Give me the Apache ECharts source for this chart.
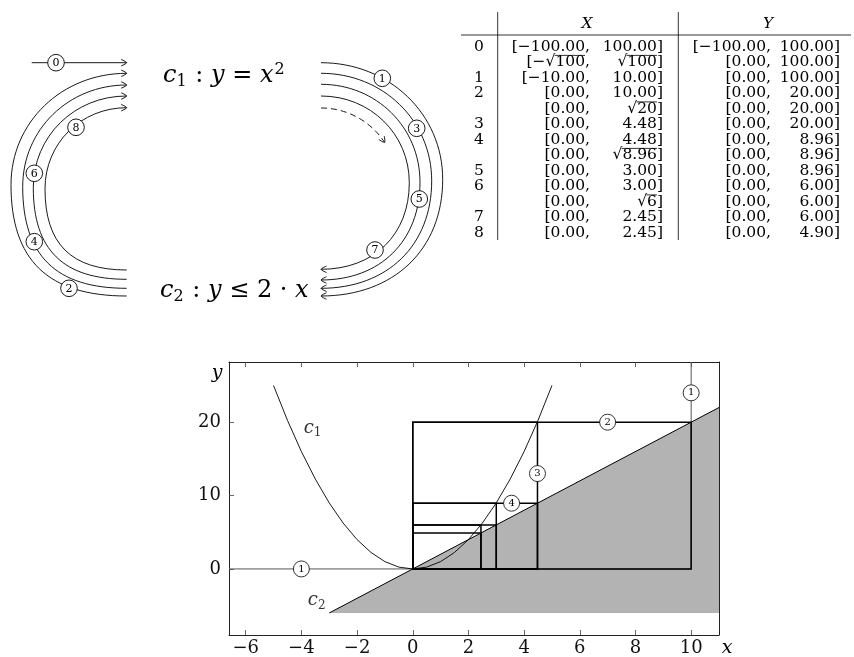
<!DOCTYPE html>
<html>
<head>
<meta charset="utf-8">
<script src="https://cdn.jsdelivr.net/npm/echarts@6/dist/echarts.min.js"></script>
<style>
  html, body { margin: 0; padding: 0; background: #fff; }
  #chart { width: 854px; height: 657px; }
</style>
</head>
<body>
<div id="chart"></div>
<script>
// ---- Interval narrowing table (step, X interval, Y interval) ----
const rowIndex = ['0', '', '1', '2', '', '3', '4', '', '5', '6', '', '7', '8'];
const xLower = ['[−100.00,', '[−√100,', '[−10.00,', '[0.00,', '[0.00,', '[0.00,', '[0.00,',
                '[0.00,', '[0.00,', '[0.00,', '[0.00,', '[0.00,', '[0.00,'];
const xUpper = ['100.00]', '√100]', '10.00]', '10.00]', '√20]', '4.48]', '4.48]',
                '√8.96]', '3.00]', '3.00]', '√6]', '2.45]', '2.45]'];
const yLower = ['[−100.00,', '[0.00,', '[0.00,', '[0.00,', '[0.00,', '[0.00,', '[0.00,',
                '[0.00,', '[0.00,', '[0.00,', '[0.00,', '[0.00,', '[0.00,'];
const yUpper = ['100.00]', '100.00]', '100.00]', '20.00]', '20.00]', '20.00]', '8.96]',
                '8.96]', '8.96]', '6.00]', '6.00]', '6.00]', '4.90]'];

// ---- Boxes drawn in the plot (steps 1..8) ----
const boxStep  = [1, 2, 3, 4, 5, 6, 7, 8];
const boxXLow  = [-10, 0, 0, 0, 0, 0, 0, 0];
const boxXHigh = [10, 10, 4.48, 4.48, 3.00, 3.00, 2.45, 2.45];
const boxYLow  = [0, 0, 0, 0, 0, 0, 0, 0];
const boxYHigh = [100, 20, 20, 8.96, 8.96, 6.00, 6.00, 4.90];

// ---- Constraint curves ----
const c1X = [-5, -4.5, -4, -3.5, -3, -2.5, -2, -1.5, -1, -0.5, 0, 0.5, 1, 1.5, 2, 2.5, 3, 3.5, 4, 4.5, 5];
const c1Y = [25, 20.25, 16, 12.25, 9, 6.25, 4, 2.25, 1, 0.25, 0, 0.25, 1, 2.25, 4, 6.25, 9, 12.25, 16, 20.25, 25];
const c2X = [-3, 11];
const c2Y = [-6, 22];
const c2FillFloor = -6;

// ---- Step markers in the plot ----
const markerStep = ['1', '1', '2', '3', '4'];
const markerX = [-4, 10, 7, 4.48, 3.55];
const markerY = [0, 24, 20, 13, 8.96];

// ---- Curve name labels ----
const curveName = ['c1', 'c2'];
const curveLabelX = [-3.6, -3.45];
const curveLabelY = [19.2, -4.3];

// ---- Axis ticks ----
const xTicks = [-6, -4, -2, 0, 2, 4, 6, 8, 10];
const yTicks = [0, 10, 20];

const SERIF = '"DejaVu Serif", serif';
const minus = v => String(v).replace('-', '\u2212');

const chart = echarts.init(document.getElementById('chart'));

// ---------- top-left loop diagram ----------
const diagram = [];
const INK = '#000';
const LW = 0.9;

function bez(x1, y1, cx1, cy1, cx2, cy2, x2, y2, dash) {
  return {
    type: 'bezierCurve', silent: true,
    shape: { x1, y1, cpx1: cx1, cpy1: cy1, cpx2: cx2, cpy2: cy2, x2, y2 },
    style: { stroke: INK, lineWidth: LW, fill: 'none', lineDash: dash || null }
  };
}
function arrowHead(x, y, dx, dy) {
  const len = 5.5, half = 3.2;
  const nx = -dy, ny = dx;
  return {
    type: 'polyline', silent: true,
    shape: { points: [[x - len * dx + half * nx, y - len * dy + half * ny], [x, y], [x - len * dx - half * nx, y - len * dy - half * ny]], smooth: 0.3 },
    style: { stroke: INK, lineWidth: LW, fill: 'none' }
  };
}
function circled(x, y, label) {
  return [
    { type: 'circle', silent: true, shape: { cx: x, cy: y, r: 8.3 }, style: { fill: '#fff', stroke: INK, lineWidth: LW }, z: 10 },
    { type: 'text', silent: true, z: 11, style: { text: label, x: x, y: y + 0.5, align: 'center', verticalAlign: 'middle',
      textAlign: 'center', textVerticalAlign: 'middle', font: '11px ' + SERIF, fill: INK } }
  ];
}

// left loops (c2 -> c1), open to the right, arrow at the top end
const leftEnd = 126.7;
const leftLoops = [
  { top: 73.3, bottom: 296.0, side: 11.0, mid: 184.7 },
  { top: 85.0, bottom: 288.3, side: 22.7, mid: 186.7 },
  { top: 96.0, bottom: 279.3, side: 33.3, mid: 187.7 },
  { top: 107.7, bottom: 270.0, side: 45.0, mid: 188.8 }
];
leftLoops.forEach(a => {
  const w = leftEnd - a.side, hT = a.mid - a.top, hB = a.bottom - a.mid;
  const kT = 0.56, kB = 0.68;
  diagram.push(bez(leftEnd, a.top, leftEnd - kT * w, a.top, a.side, a.mid - kT * hT, a.side, a.mid));
  diagram.push(bez(a.side, a.mid, a.side, a.mid + kB * hB, leftEnd - kB * w, a.bottom, leftEnd, a.bottom));
  diagram.push(arrowHead(leftEnd, a.top, 1, 0));
});

// right loops (c1 -> c2), open to the left, arrow at the bottom end
const rightEnd = 321;
const rightLoops = [
  { top: 62.7, bottom: 296.0, side: 442.7, mid: 179.3 },
  { top: 73.3, bottom: 288.3, side: 431.7, mid: 180.8 },
  { top: 84.3, bottom: 280.0, side: 420.0, mid: 182.2 },
  { top: 96.0, bottom: 269.3, side: 409.3, mid: 182.7 }
];
rightLoops.forEach(a => {
  const w = a.side - rightEnd, hT = a.mid - a.top, hB = a.bottom - a.mid;
  const kT = 0.56, kB = 0.6;
  diagram.push(bez(rightEnd, a.top, rightEnd + kT * w, a.top, a.side, a.mid - kT * hT, a.side, a.mid));
  diagram.push(bez(a.side, a.mid, a.side, a.mid + kB * hB, rightEnd + kB * w, a.bottom, rightEnd, a.bottom));
  diagram.push(arrowHead(rightEnd, a.bottom, -1, 0));
});

// dashed continuation
diagram.push({
  type: 'arc', silent: true,
  shape: { cx: 321, cy: 184, r: 76, startAngle: -Math.PI / 2, endAngle: -0.58, clockwise: true },
  style: { stroke: INK, lineWidth: LW, fill: 'none', lineDash: [6, 4] }
});
diagram.push(arrowHead(321 + 76 * Math.cos(-0.58), 184 + 76 * Math.sin(-0.58), Math.sin(0.58), Math.cos(0.58)));

// entry line
diagram.push({ type: 'line', silent: true, shape: { x1: 31.7, y1: 62.7, x2: 126.7, y2: 62.7 }, style: { stroke: INK, lineWidth: LW } });
diagram.push(arrowHead(126.7, 62.7, 1, 0));

// step numbers on the loops
[[56, 62.7, '0'], [382.3, 78.3, '1'], [69, 288.3, '2'], [416.7, 128.3, '3'], [34.3, 241.7, '4'],
 [419.3, 199, '5'], [34.3, 173.3, '6'], [375, 250, '7'], [76, 127.3, '8']]
  .forEach(c => diagram.push(...circled(c[0], c[1], c[2])));

// constraint captions
const capRich = {
  i: { fontFamily: SERIF, fontStyle: 'italic', fontSize: 24, color: INK },
  n: { fontFamily: SERIF, fontSize: 24, color: INK },
  s: { fontFamily: SERIF, fontSize: 16, color: INK, padding: [11, 1, 0, 0] },
  p: { fontFamily: SERIF, fontSize: 16, color: INK, padding: [0, 0, 13, 1] }
};
diagram.push({ type: 'text', silent: true, style: { text: '{i|c}{s|1}{n| : }{i|y}{n| = }{i|x}{p|2}', rich: capRich,
  x: 163, y: 76, align: 'left', verticalAlign: 'middle', textAlign: 'left', textVerticalAlign: 'middle' } });
diagram.push({ type: 'text', silent: true, style: { text: '{i|c}{s|2}{n| : }{i|y}{n| ≤ 2 · }{i|x}', rich: capRich,
  x: 160, y: 291, align: 'left', verticalAlign: 'middle', textAlign: 'left', textVerticalAlign: 'middle' } });

// ---------- table ----------
const table = [];
const TSIZE = 15.5;
const TFONT = TSIZE + 'px ' + SERIF;
const rowY0 = 46.7, rowStep = 15.5;
const measure = document.createElement('canvas').getContext('2d');
measure.font = TFONT;

function cell(text, x, y, align, italic) {
  return { type: 'text', silent: true, style: { text, x, y, align, verticalAlign: 'middle', textAlign: align,
    textVerticalAlign: 'middle', font: (italic ? 'italic ' : '') + TFONT, fill: INK } };
}
// right-aligned cell; a radical gets its vinculum drawn as a line over the radicand
function numCell(text, rightX, y) {
  table.push(cell(text, rightX, y, 'right'));
  const k = text.indexOf('√');
  if (k < 0) return;
  const rad = text.slice(k + 1).match(/^[0-9.]+/)[0];
  const tail = text.slice(k + 1 + rad.length);
  const x2 = rightX - measure.measureText(tail).width;
  const x1 = x2 - measure.measureText(rad).width;
  const yBar = y - 6.8;
  table.push({ type: 'line', silent: true, shape: { x1: x1 - 0.8, y1: yBar, x2: x2, y2: yBar },
    style: { stroke: INK, lineWidth: 0.8 } });
}
table.push(cell('X', 587, 24, 'center', true));
table.push(cell('Y', 768, 24, 'center', true));
rowIndex.forEach((idx, i) => {
  const y = rowY0 + i * rowStep;
  if (idx) table.push(cell(idx, 479, y, 'center'));
  numCell(xLower[i], 590, y);
  numCell(xUpper[i], 663, y);
  numCell(yLower[i], 771, y);
  numCell(yUpper[i], 840, y);
});
table.push({ type: 'line', silent: true, shape: { x1: 461, y1: 35, x2: 851, y2: 35 }, style: { stroke: INK, lineWidth: 0.8 } });
table.push({ type: 'line', silent: true, shape: { x1: 497.7, y1: 12, x2: 497.7, y2: 240 }, style: { stroke: INK, lineWidth: 0.8 } });
table.push({ type: 'line', silent: true, shape: { x1: 678.3, y1: 12, x2: 678.3, y2: 240 }, style: { stroke: INK, lineWidth: 0.8 } });

// axis names
const axisNames = [
  { type: 'text', silent: true, style: { text: 'y', x: 217, y: 373, align: 'center', verticalAlign: 'middle',
    textAlign: 'center', textVerticalAlign: 'middle', font: 'italic 19px ' + SERIF, fill: INK } },
  { type: 'text', silent: true, style: { text: 'x', x: 727, y: 648, align: 'center', verticalAlign: 'middle',
    textAlign: 'center', textVerticalAlign: 'middle', font: 'italic 19px ' + SERIF, fill: INK } }
];

const frameLine = { show: true, lineStyle: { color: '#222', width: 1 } };
const tickStyle = { show: true, inside: true, length: 5, lineStyle: { color: '#444', width: 0.8 } };
const tickLabel = { fontFamily: SERIF, fontSize: 18, color: '#111' };

const option = {
  animation: false,
  backgroundColor: '#fff',
  grid: { left: 229, top: 362, right: 135, bottom: 19, containLabel: false },
  xAxis: [
    { type: 'value', position: 'bottom', min: -6.6, max: 11, axisLine: { ...frameLine, onZero: false },
      axisTick: { ...tickStyle, customValues: xTicks },
      axisLabel: { ...tickLabel, margin: 4, customValues: xTicks, formatter: minus },
      splitLine: { show: false } },
    { type: 'value', position: 'top', min: -6.6, max: 11, axisLine: { ...frameLine, onZero: false },
      axisTick: { ...tickStyle, customValues: xTicks },
      axisLabel: { show: false, customValues: xTicks },
      splitLine: { show: false } }
  ],
  yAxis: [
    { type: 'value', position: 'left', min: -9, max: 28.2, axisLine: { ...frameLine, onZero: false },
      axisTick: { ...tickStyle, customValues: yTicks },
      axisLabel: { ...tickLabel, margin: 8, customValues: yTicks, formatter: minus },
      splitLine: { show: false } },
    { type: 'value', position: 'right', min: -9, max: 28.2, axisLine: { ...frameLine, onZero: false },
      axisTick: { show: false }, axisLabel: { show: false }, splitLine: { show: false } }
  ],
  series: [
    { // feasible region of c2 (shaded)
      type: 'custom', clip: true, z: 1, data: [0],
      renderItem: (params, api) => ({
        type: 'polygon',
        shape: { points: [[c2X[0], c2Y[0]], [c2X[1], c2Y[1]], [c2X[1], c2FillFloor]].map(p => api.coord(p)) },
        style: { fill: '#b3b3b3' }
      })
    },
    { // c2 boundary
      type: 'line', z: 2, showSymbol: false, silent: true,
      data: c2X.map((x, i) => [x, c2Y[i]]),
      lineStyle: { color: '#000', width: 1 }
    },
    { // narrowed boxes
      type: 'custom', clip: true, z: 3,
      data: boxStep.map((s, i) => [boxXLow[i], boxXHigh[i], boxYLow[i], boxYHigh[i], s]),
      encode: { x: [0, 1], y: [2, 3] },
      renderItem: (params, api) => {
        const x0 = api.value(0), x1 = api.value(1), y0 = api.value(2), y1 = api.value(3);
        const first = api.value(4) === 1;
        return {
          type: 'polygon',
          shape: { points: [[x0, y0], [x1, y0], [x1, y1], [x0, y1]].map(p => api.coord(p)) },
          style: { fill: 'none', stroke: first ? '#555' : '#000', lineWidth: first ? 1 : 1.5 }
        };
      }
    },
    { // c1 : y = x^2
      type: 'line', z: 4, showSymbol: false, silent: true,
      data: c1X.map((x, i) => [x, c1Y[i]]),
      lineStyle: { color: '#000', width: 0.9 }
    },
    { // step markers
      type: 'scatter', z: 6, silent: true,
      data: markerStep.map((s, i) => [markerX[i], markerY[i], s]),
      symbol: 'circle', symbolSize: 16,
      itemStyle: { color: '#fff', borderColor: '#000', borderWidth: 0.8, opacity: 1 },
      label: { show: true, position: 'inside', formatter: p => p.value[2], fontFamily: SERIF, fontSize: 10, color: '#000' }
    },
    { // curve names
      type: 'scatter', z: 6, silent: true, symbolSize: 0,
      data: curveName.map((n, i) => [curveLabelX[i], curveLabelY[i], n]),
      label: {
        show: true, position: 'inside',
        formatter: p => '{i|' + p.value[2][0] + '}{s|' + p.value[2].slice(1) + '}',
        rich: {
          i: { fontFamily: SERIF, fontStyle: 'italic', fontSize: 18, color: '#000' },
          s: { fontFamily: SERIF, fontSize: 12, color: '#000', padding: [10, 0, 0, 0] }
        }
      }
    }
  ],
  graphic: { elements: [...diagram, ...table, ...axisNames] }
};

chart.setOption(option);
</script>
</body>
</html>
